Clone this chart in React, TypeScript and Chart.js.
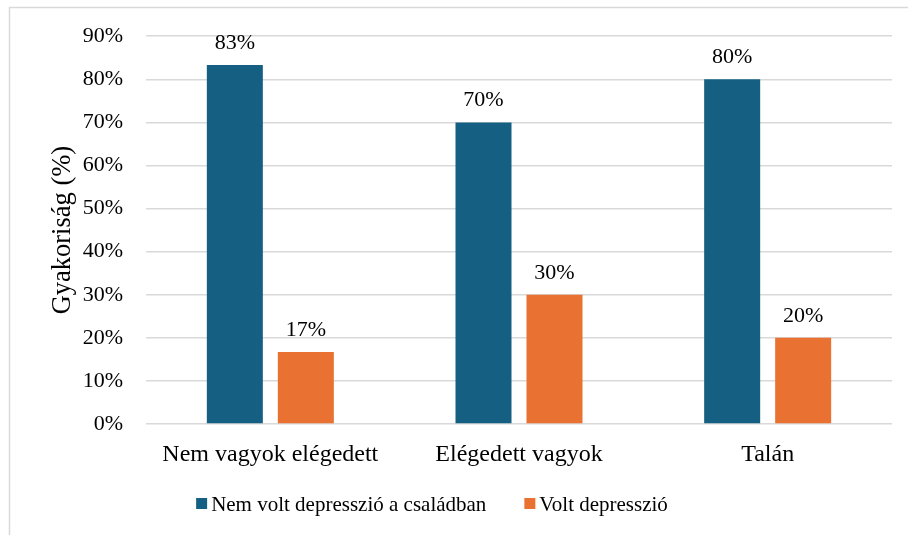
import React, { useEffect, useRef } from 'react';
import { Chart, registerables } from 'chart.js';

Chart.register(...registerables);

const categories = ['Nem vagyok elégedett', 'Elégedett vagyok', 'Talán'];
const seriesNames = ['Nem volt depresszió a családban', 'Volt depresszió'];
const noDepression = [83.3, 70, 80];
const depression = [16.7, 30, 20];
const yAxisTitle = 'Gyakoriság (%)';
const yMin = 0;
const yMax = 90;
const yStep = 10;

const FONT = '"Liberation Serif", "Times New Roman", serif';
const BLUE = '#156082';
const ORANGE = '#E97132';
const GRID = '#D9D9D9';

const framePlugin = {
  id: 'frame',
  beforeDraw(chart: any) {
    const ctx = chart.ctx;
    ctx.save();
    ctx.strokeStyle = GRID;
    ctx.lineWidth = 1.5;
    ctx.beginPath();
    ctx.moveTo(9.5, 540);
    ctx.lineTo(9.5, 7.5);
    ctx.lineTo(910, 7.5);
    ctx.stroke();
    ctx.restore();
  },
};

const dataLabelPlugin = {
  id: 'dataLabels',
  afterDatasetsDraw(chart: any) {
    const ctx = chart.ctx;
    ctx.save();
    ctx.font = `22px ${FONT}`;
    ctx.fillStyle = '#000';
    ctx.textAlign = 'center';
    ctx.textBaseline = 'alphabetic';
    chart.data.datasets.forEach((ds: any, i: number) => {
      const meta = chart.getDatasetMeta(i);
      meta.data.forEach((bar: any, j: number) => {
        const v = ds.data[j];
        ctx.fillText(Math.round(v) + '%', bar.x, bar.y - 16);
      });
    });
    ctx.restore();
  },
};

const legendPlugin = {
  id: 'customLegend',
  afterDraw(chart: any) {
    const ctx = chart.ctx;
    ctx.save();
    ctx.font = `21px ${FONT}`;
    const box = 11;
    const textGap = 4;
    const itemGap = 38;
    const items = chart.data.datasets.map((ds: any) => ({
      text: ds.label,
      color: ds.backgroundColor,
      w: ctx.measureText(ds.label).width,
    }));
    const total =
      items.reduce((s: number, it: any) => s + box + textGap + it.w, 0) +
      itemGap * (items.length - 1);
    let x = 432 - total / 2;
    const cy = 504;
    ctx.textBaseline = 'middle';
    ctx.textAlign = 'left';
    items.forEach((it: any) => {
      ctx.fillStyle = it.color;
      ctx.fillRect(x, cy - box / 2 - 0.5, box, box);
      ctx.fillStyle = '#000';
      ctx.fillText(it.text, x + box + textGap, cy + 1);
      x += box + textGap + it.w + itemGap;
    });
    ctx.restore();
  },
};

export default function App() {
  const canvasRef = useRef<HTMLCanvasElement | null>(null);

  useEffect(() => {
    if (!canvasRef.current) return;
    const chart = new Chart(canvasRef.current, {
      type: 'bar',
      data: {
        labels: categories,
        datasets: [
          {
            label: seriesNames[0],
            data: noDepression,
            backgroundColor: BLUE,
            categoryPercentage: 0.571,
            barPercentage: 0.789,
          },
          {
            label: seriesNames[1],
            data: depression,
            backgroundColor: ORANGE,
            categoryPercentage: 0.571,
            barPercentage: 0.789,
          },
        ],
      },
      options: {
        responsive: false,
        animation: false,
        layout: { padding: { left: 0, right: 16, top: 36, bottom: 0 } },
        plugins: {
          legend: { display: false },
          tooltip: { enabled: false },
        },
        scales: {
          x: {
            grid: { display: false },
            border: { display: false },
            ticks: {
              color: '#000',
              font: { family: FONT, size: 24 },
              padding: 8,
              maxRotation: 0,
            },
            afterFit(scale: any) {
              scale.height = 111;
            },
          },
          y: {
            min: yMin,
            max: yMax,
            grid: { color: GRID, lineWidth: 1.5, drawTicks: false },
            border: { display: false },
            ticks: {
              stepSize: yStep,
              color: '#000',
              font: { family: FONT, size: 22 },
              padding: 23,
              callback: (v: any) => v + '%',
            },
            title: {
              display: true,
              text: yAxisTitle,
              color: '#000',
              font: { family: FONT, size: 26.5 },
              padding: { top: 47, bottom: 0 },
            },
            afterFit(scale: any) {
              scale.width = 146;
            },
          },
        },
      },
      plugins: [framePlugin, dataLabelPlugin, legendPlugin],
    });
    return () => chart.destroy();
  }, []);

  return (
    <div style={{ position: 'fixed', left: 0, top: 0, width: 908, height: 535, background: '#fff' }}>
      <canvas ref={canvasRef} width={908} height={535} style={{ display: 'block' }} />
    </div>
  );
}
